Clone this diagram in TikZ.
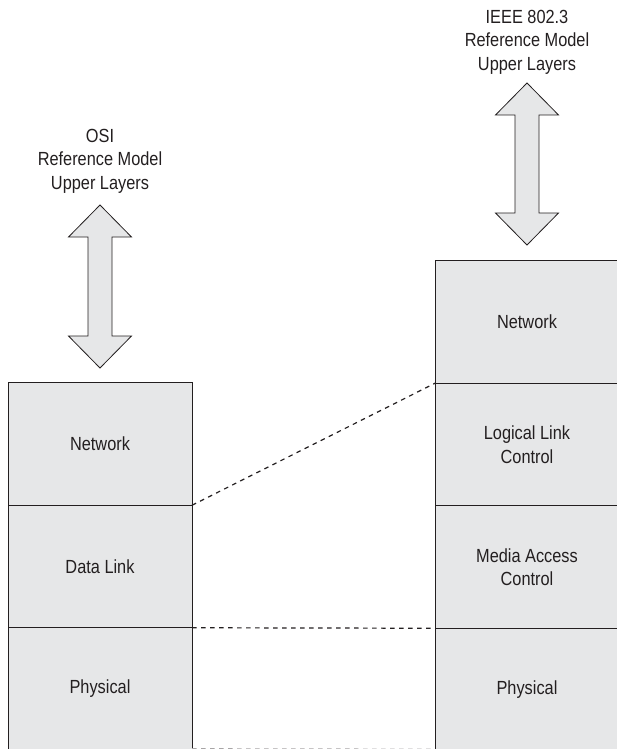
\documentclass[tikz,border=0pt]{standalone}
\usepackage{fontspec}
\setmainfont{Liberation Sans}[FakeStretch=0.86]
\usepackage{tikz}
\usepackage{xcolor}
\usetikzlibrary{positioning, calc}
\definecolor{cLayer}{RGB}{230,231,232}
\definecolor{cEdge}{RGB}{35,31,32}
\tikzset{
	layer/.style    ={rectangle, draw=cEdge, line width=0.9pt, fill=cLayer, minimum width=184pt, minimum height=122.5pt, outer sep=0pt, align=center, text=cEdge},
	header/.style   ={align=center, text=cEdge},
	linkline/.style ={line width=1.2pt, cEdge, dash pattern=on 4.5pt off 4.5pt},
	bigarrow/.style ={draw=cEdge, line width=0.8pt, fill=cLayer, line join=miter},
}
% double arrow: x of axis, y of top tip, y of bottom tip
\newcommand{\updown}[3]{%
	\draw[bigarrow] (#1,#2) -- ({#1+31.5},{#2+32}) -- ({#1+12},{#2+32}) -- ({#1+12},{#3-32}) -- ({#1+31.5},{#3-32})
		-- (#1,#3) -- ({#1-31.5},{#3-32}) -- ({#1-12},{#3-32}) -- ({#1-12},{#2+32}) -- ({#1-31.5},{#2+32}) -- cycle;}

\begin{document}
\begin{tikzpicture}[x=1pt, y=-1pt, font=\fontsize{19}{23.5}\selectfont]
	\useasboundingbox (0,0) rectangle (617,749);
	\clip (0,0) rectangle (617,749);
	% ---------------- OSI stack ----------------
	\node[layer] (onet) at (100,444) {Network};
	\node[layer, below=0pt of onet] (odl) {Data Link};
	\node[layer, below=0pt of odl] (ophy) {Physical};
	\node[header] (osihdr) at (100,161) {OSI\\Reference Model\\Upper Layers};
	\updown{100}{205}{368}
	% ---------------- IEEE 802.3 stack ----------------
	\node[layer] (inet) at (527,322) {Network};
	\node[layer, below=0pt of inet] (illc) {Logical Link\\Control};
	\node[layer, below=0pt of illc] (imac) {Media Access\\Control};
	\node[layer, below=0pt of imac] (iphy) {Physical};
	\node[header] (ieeehdr) at (527,42) {IEEE 802.3\\Reference Model\\Upper Layers};
	\updown{527}{83}{245}
	% ---------------- mapping ----------------
	\draw[linkline] (odl.north east) -- (illc.north west);
	\draw[linkline] (ophy.north east) -- (iphy.north west);
	\draw[linkline, cEdge!40] ([yshift=1.5pt]ophy.south east) -- ([yshift=1.5pt]iphy.south west);
\end{tikzpicture}
\end{document}
